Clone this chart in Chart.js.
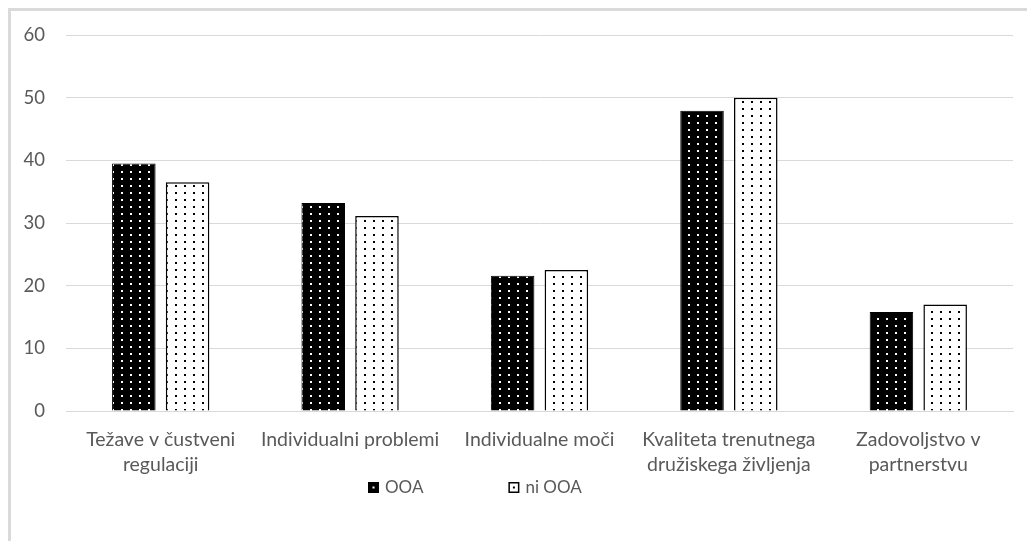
<!DOCTYPE html>
<html>
<head>
<meta charset="utf-8">
<script src="https://cdn.jsdelivr.net/npm/chart.js@4.4.0/dist/chart.umd.min.js"></script>
<style>
  html, body { margin: 0; padding: 0; background: #fff; overflow: hidden; }
  canvas { display: block; }
</style>
</head>
<body>
<canvas id="c" width="1027" height="541"></canvas>
<script>
// Categories (multi-line labels as arrays)
const categories = [
  ["Težave v čustveni", "regulaciji"],
  "Individualni problemi",
  "Individualne moči",
  ["Kvaliteta trenutnega", "družiskega življenja"],
  ["Zadovoljstvo v", "partnerstvu"]
];
const seriesNames = ["OOA", "ni OOA"];
const ooaValues = [39.5, 33.2, 21.6, 47.9, 15.8];
const niOoaValues = [36.5, 31.1, 22.5, 50.0, 17.0];
const yMin = 0, yMax = 60, yStep = 10;

const TEXT = '#595959';
const GRID = '#d9d9d9';
const FONT = 'Lato';

const canvas = document.getElementById('c');
const ctx = canvas.getContext('2d');

// Dotted fill: small tile with one dot, repeated
function dotTile(bg, dot) {
  const t = document.createElement('canvas');
  t.width = 9; t.height = 7;
  const g = t.getContext('2d');
  g.fillStyle = bg; g.fillRect(0, 0, 9, 7);
  g.fillStyle = dot; g.fillRect(4, 3, 2, 2);
  return ctx.createPattern(t, 'repeat');
}
const fillOOA = dotTile('#000000', '#ffffff');
const fillNi = dotTile('#ffffff', '#000000');

// Light grey frame around the figure (top and left edges)
const framePlugin = {
  id: 'frame',
  beforeDraw(chart) {
    const c = chart.ctx;
    c.save();
    c.fillStyle = '#ffffff';
    c.fillRect(0, 0, chart.width, chart.height);
    c.fillStyle = '#dadada';
    c.fillRect(8, 8, chart.width - 8, 3);
    c.fillRect(8, 8, 3, chart.height - 8);
    c.restore();
  }
};

// Series key below the axis labels
const keyPlugin = {
  id: 'seriesKey',
  afterDraw(chart) {
    const c = chart.ctx;
    const styles = [
      { bg: '#000000', dot: '#ffffff', border: '#000000' },
      { bg: '#ffffff', dot: '#000000', border: '#000000' }
    ];
    c.save();
    c.font = '17px ' + FONT;
    c.textBaseline = 'middle';
    c.textAlign = 'left';
    const cy = 487.5;
    const box = 11;
    let x = 368;
    chart.data.datasets.forEach((ds, i) => {
      const s = styles[i];
      c.fillStyle = s.border;
      c.fillRect(x, cy - box / 2, box, box);
      c.fillStyle = s.bg;
      if (i === 1) c.fillRect(x + 1.5, cy - box / 2 + 1.5, box - 3, box - 3);
      c.fillStyle = s.dot;
      c.fillRect(x + 4.5, cy - 1, 2, 2);
      c.fillStyle = TEXT;
      const tx = x + box + 6;
      c.fillText(ds.label, tx, cy);
      x = tx + c.measureText(ds.label).width + 85;
    });
    c.restore();
  }
};

new Chart(ctx, {
  type: 'bar',
  data: {
    labels: categories,
    datasets: [
      {
        label: seriesNames[0],
        data: ooaValues,
        backgroundColor: fillOOA,
        borderColor: '#000000',
        borderWidth: 1,
        categoryPercentage: 0.5675,
        barPercentage: 0.81
      },
      {
        label: seriesNames[1],
        data: niOoaValues,
        backgroundColor: fillNi,
        borderColor: '#000000',
        borderWidth: 1.5,
        categoryPercentage: 0.5675,
        barPercentage: 0.81
      }
    ]
  },
  options: {
    responsive: false,
    animation: false,
    devicePixelRatio: 1,
    layout: { padding: { left: 10, top: 35, right: 14, bottom: 50 } },
    plugins: {
      legend: { display: false },
      tooltip: { enabled: false }
    },
    scales: {
      x: {
        grid: { display: false, drawTicks: false },
        border: { color: GRID, width: 1 },
        ticks: {
          color: TEXT,
          font: { family: FONT, size: 19.5, lineHeight: 1.28 },
          padding: 16.5,
          maxRotation: 0,
          autoSkip: false
        },
        afterFit(s) { s.height = 80; }
      },
      y: {
        min: yMin,
        max: yMax,
        ticks: {
          stepSize: yStep,
          color: TEXT,
          font: { family: FONT, size: 18.5 },
          padding: 21
        },
        grid: { color: GRID, drawTicks: false },
        border: { display: false },
        afterFit(s) { s.width = 56; }
      }
    }
  },
  plugins: [framePlugin, keyPlugin]
});
</script>
</body>
</html>
